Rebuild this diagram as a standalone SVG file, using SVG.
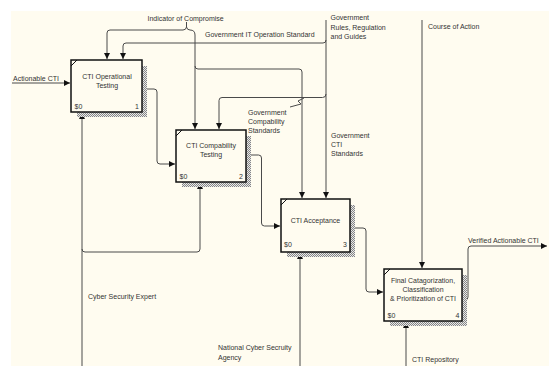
<svg xmlns="http://www.w3.org/2000/svg" width="549" height="367" viewBox="0 0 549 367">
  <defs>
    <pattern id="dither" width="2" height="2" patternUnits="userSpaceOnUse">
      <rect width="2" height="2" fill="#e8e8e8"/>
      <rect width="1" height="1" fill="#858585"/>
      <rect x="1" y="1" width="1" height="1" fill="#858585"/>
    </pattern>
    <marker id="arrow" viewBox="0 0 6 6" refX="6" refY="3" markerWidth="6" markerHeight="6" markerUnits="userSpaceOnUse" orient="auto">
      <path d="M0,0 L6,3 L0,6 Z" fill="#111"/>
    </marker>
  </defs>
  <style>
    text { font-family: "Liberation Sans", Arial, sans-serif; font-size: 7px; fill: #333; }
    .mid { text-anchor: middle; }
    .end { text-anchor: end; }
    .box { fill: #fffcf0; stroke: #111; stroke-width: 1.5; }
    .shadow { fill: url(#dither); }
    .tick { stroke: #111; stroke-width: 1; }
    .wire { fill: none; stroke: #4a4a4a; stroke-width: 1; }
    .arr { marker-end: url(#arrow); }
  </style>

  <!-- canvas -->
  <rect x="0" y="0" width="549" height="367" fill="#ffffff"/>
  <rect x="11" y="11" width="538" height="355" fill="#fffcf0"/>

  <!-- connectors -->
  <g id="connectors">
    <!-- Actionable CTI -->
    <path class="wire arr" d="M12,83 H70"/>
    <!-- Indicator of Compromise -->
    <path class="wire" d="M186.5,22 V27"/>
    <path class="wire arr" d="M183,30 H110 Q107,30 107,33 V59"/>
    <path class="wire" d="M183,30 Q186,30 186.5,27 Q187,30 190,30"/>
    <path class="wire arr" d="M190,30 Q195,30 195,35 V129"/>
    <path class="wire arr" d="M195,66 Q195,69 198,69 H299 Q302,69 302,72 V198"/>
    <!-- Government Rules, Regulation and Guides -->
    <path class="wire arr" d="M326,20 V198"/>
    <path class="wire arr" d="M326,40 Q326,43 323,43 H126 Q123,43 123,46 V59"/>
    <path class="wire arr" d="M326,94 Q326,97.5 322.5,97.5 H222 Q219,97.5 219,100.5 V129"/>
    <path class="wire" d="M304,98 L298,101 L301,104 L290,107"/>
    <!-- Course of Action -->
    <path class="wire arr" d="M422,20 V268"/>
    <!-- outputs between activities -->
    <path class="wire arr" d="M143,89 H154 Q157,89 157,92 V161 Q157,164 160,164 H175"/>
    <path class="wire arr" d="M247,155 H258.5 Q261.5,155 261.5,158 V223 Q261.5,226 264.5,226 H280"/>
    <path class="wire arr" d="M351,228 H363 Q366,228 366,231 V289 Q366,292 369,292 H383"/>
    <!-- Verified Actionable CTI -->
    <path class="wire arr" d="M463,300 H465 Q468,300 468,297 V249 Q468,246 471,246 H547"/>
    <!-- mechanisms -->
    <path class="wire arr" d="M82,366 V113"/>
    <path class="wire arr" d="M82,249 Q82,252 85,252 H197 Q200,252 200,249 V183"/>
    <path class="wire arr" d="M300,366 V253"/>
    <path class="wire arr" d="M406,366 V322"/>
  </g>

  <!-- labels on connectors -->
  <g id="labels">
    <text x="13" y="80.5">Actionable CTI</text>
    <text x="147.5" y="20.8">Indicator of Compromise</text>
    <text x="205" y="36.5">Government IT Operation Standard</text>
    <text x="330.5" y="20">Government</text>
    <text x="330.5" y="29.7">Rules, Regulation</text>
    <text x="330.5" y="39.2">and Guides</text>
    <text x="428" y="28.5">Course of Action</text>
    <text x="248" y="115">Government</text>
    <text x="248" y="124">Compability</text>
    <text x="248" y="133">Standards</text>
    <text x="331" y="137.5">Government</text>
    <text x="331" y="146.5">CTI</text>
    <text x="331" y="155.8">Standards</text>
    <text x="468" y="243">Verified Actionable CTI</text>
    <text x="88" y="299">Cyber Security Expert</text>
    <text x="218" y="350">National Cyber Secruity</text>
    <text x="218" y="360">Agency</text>
    <text x="412" y="361.5">CTI Repository</text>
  </g>

  <!-- activity 1 -->
  <g id="node-1">
    <rect class="shadow" x="77" y="66" width="70" height="51"/>
    <rect class="box" x="71" y="60" width="71" height="52"/>
    <line class="tick" x1="71" y1="66" x2="77" y2="60"/>
    <text class="mid" x="107" y="78.5">CTI Operational</text>
    <text class="mid" x="107" y="87.5">Testing</text>
    <text x="74.5" y="109">$0</text>
    <text class="end" x="139" y="109">1</text>
  </g>

  <!-- activity 2 -->
  <g id="node-2">
    <rect class="shadow" x="182" y="136" width="69" height="51"/>
    <rect class="box" x="176" y="130" width="70" height="52"/>
    <line class="tick" x1="176" y1="136" x2="182" y2="130"/>
    <text class="mid" x="211" y="147.5">CTI Compability</text>
    <text class="mid" x="211" y="157">Testing</text>
    <text x="179.5" y="178.5">$0</text>
    <text class="end" x="243" y="178.5">2</text>
  </g>

  <!-- activity 3 -->
  <g id="node-3">
    <rect class="shadow" x="287" y="205" width="68" height="52"/>
    <rect class="box" x="281" y="199" width="69" height="53"/>
    <line class="tick" x1="281" y1="205" x2="287" y2="199"/>
    <text class="mid" x="315.5" y="222.5">CTI Acceptance</text>
    <text x="284" y="247">$0</text>
    <text class="end" x="347" y="247">3</text>
  </g>

  <!-- activity 4 -->
  <g id="node-4">
    <rect class="shadow" x="390" y="275" width="77" height="51"/>
    <rect class="box" x="384" y="269" width="78" height="52"/>
    <line class="tick" x1="384" y1="275" x2="390" y2="269"/>
    <text class="mid" x="423" y="282.5">Final Catagorization,</text>
    <text class="mid" x="423" y="291.5">Classification</text>
    <text class="mid" x="423" y="301">&amp; Prioritization of CTI</text>
    <text x="387.5" y="317.5">$0</text>
    <text class="end" x="459.5" y="317.5">4</text>
  </g>
</svg>
